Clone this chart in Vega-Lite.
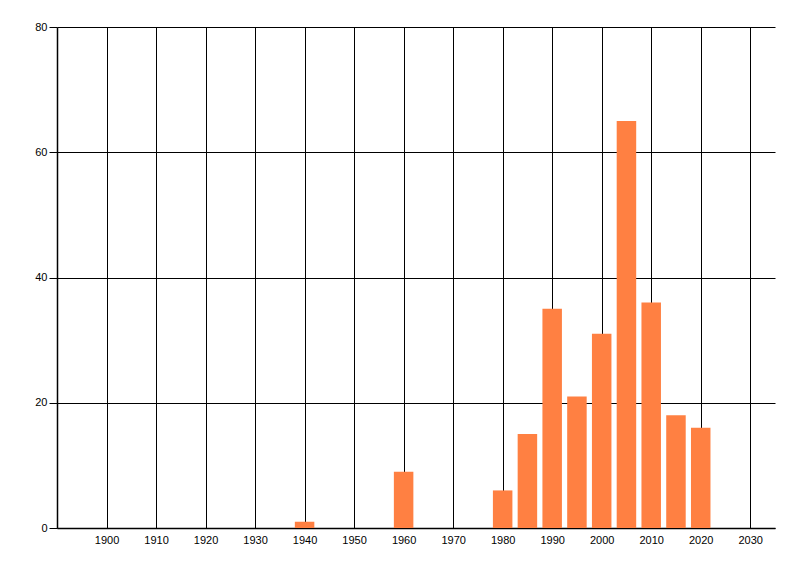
{
  "$schema": "https://vega.github.io/schema/vega-lite/v6.json",
  "autosize": "none",
  "padding": {"left": 57, "top": 27, "right": 25, "bottom": 48},
  "width": 718,
  "height": 501,
  "background": "white",
  "config": {"view": {"stroke": null}, "font": "Liberation Sans"},
  "data": {"values": [
    {"year": 1940, "count": 1},
    {"year": 1960, "count": 9},
    {"year": 1980, "count": 6},
    {"year": 1985, "count": 15},
    {"year": 1990, "count": 35},
    {"year": 1995, "count": 21},
    {"year": 2000, "count": 31},
    {"year": 2005, "count": 65},
    {"year": 2010, "count": 36},
    {"year": 2015, "count": 18},
    {"year": 2020, "count": 16}
  ]},
  "mark": {"type": "bar", "size": 19.5, "color": "#FF8042"},
  "encoding": {
    "x": {
      "field": "year", "type": "quantitative",
      "scale": {"domain": [1890, 2035], "nice": false, "zero": false, "padding": 0},
      "axis": {
        "title": null,
        "values": [1900, 1910, 1920, 1930, 1940, 1950, 1960, 1970, 1980, 1990, 2000, 2010, 2020, 2030],
        "format": "d",
        "grid": true, "gridColor": "black", "gridOpacity": 1, "gridWidth": 1,
        "ticks": false,
        "domainColor": "black", "domainWidth": 1.5,
        "labelColor": "black", "labelFontSize": 11, "labelPadding": 6,
        "labelFlush": false
      }
    },
    "y": {
      "field": "count", "type": "quantitative",
      "scale": {"domain": [0, 80], "nice": false},
      "axis": {
        "title": null,
        "values": [0, 20, 40, 60, 80],
        "grid": true, "gridColor": "black", "gridOpacity": 1, "gridWidth": 1,
        "ticks": true, "tickSize": 8, "tickColor": "black",
        "domainColor": "black", "domainWidth": 1.5,
        "labelColor": "black", "labelFontSize": 11, "labelPadding": 2
      }
    }
  }
}
